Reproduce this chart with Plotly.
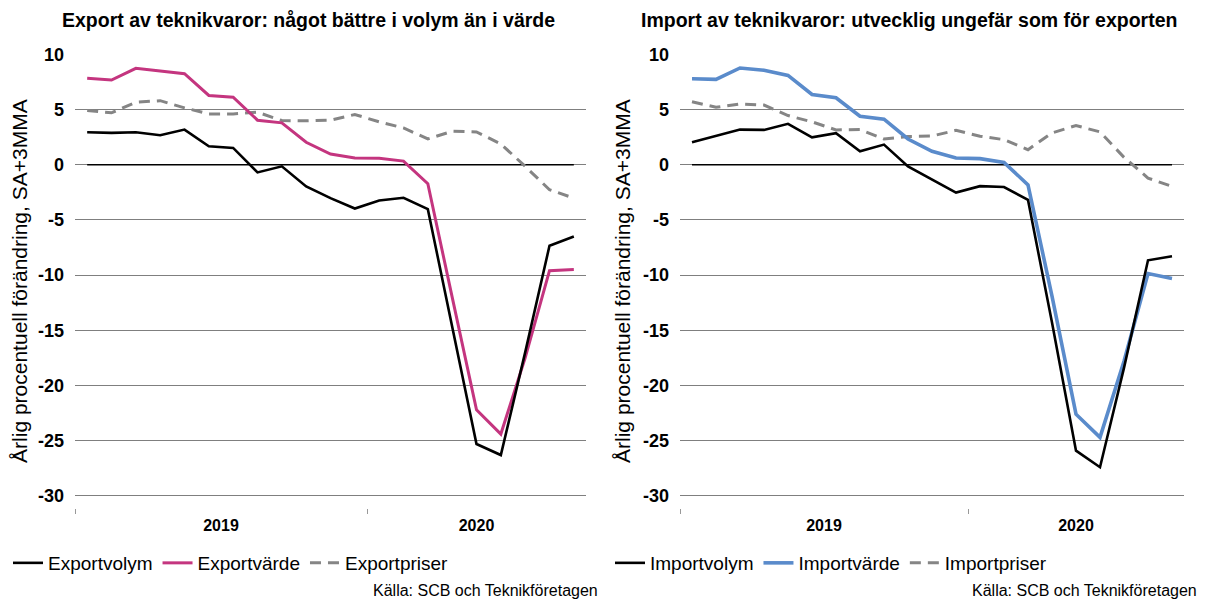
import plotly.graph_objects as go

months = ["jan", "feb", "mar", "apr", "maj", "jun", "jul", "aug", "sep", "okt", "nov", "dec",
          "jan", "feb", "mar", "apr", "maj", "jun", "jul", "aug", "sep"]
years = ["2019"] * 12 + ["2020"] * 9
year_labels = ["2019", "2020"]

export_volym = [2.94, 2.88, 2.94, 2.67, 3.18, 1.67, 1.52, -0.70, -0.15, -1.97, -3.03, -3.97,
                -3.24, -3.0, -4.03, -14.6, -25.3, -26.3, -17.0, -7.34, -6.5]
export_varde = [7.82, 7.67, 8.73, 8.48, 8.24, 6.27, 6.12, 4.03, 3.79, 2.03, 0.97, 0.61,
                0.58, 0.33, -1.72, -12.0, -22.2, -24.4, -17.5, -9.6, -9.5]
export_priser = [4.9, 4.7, 5.65, 5.8, 5.15, 4.6, 4.6, 4.75, 4.0, 3.97, 4.03, 4.55,
                 3.88, 3.33, 2.33, 3.03, 2.97, 1.88, -0.15, -2.27, -3.03]

import_volym = [2.03, 2.58, 3.18, 3.15, 3.70, 2.48, 2.85, 1.21, 1.82, -0.15, -1.36, -2.52,
                -1.94, -2.02, -3.19, -14.3, -25.9, -27.4, -18.4, -8.66, -8.3]
import_varde = [7.79, 7.73, 8.76, 8.55, 8.09, 6.36, 6.06, 4.39, 4.12, 2.33, 1.21, 0.6,
                0.55, 0.21, -1.83, -11.9, -22.6, -24.7, -17.8, -9.86, -10.3]
import_priser = [5.7, 5.2, 5.5, 5.4, 4.45, 3.88, 3.15, 3.18, 2.33, 2.55, 2.6, 3.11,
                 2.58, 2.27, 1.36, 2.88, 3.55, 2.97, 0.67, -1.21, -1.97]
zero_ref = [0] * len(months)

y_ticks = [10, 5, 0, -5, -10, -15, -20, -25, -30]
y_tick_text = ["10", "5", "0", "-5", "-10", "-15", "-20", "-25", "-30"]

FONT = "Liberation Sans, Arial, sans-serif"
# the page body adds an 8px margin; the figure is sized so the page is 1206x599
OFF = 8
W, H = 1206 - OFF, 599 - OFF

def px(p):
    return (p - OFF) / W

def py(p):
    return 1 - (p - OFF) / H

x_idx = list(range(len(months)))
year_pos = [5.5, 16]
year_bounds = [-0.5, 11.5]

PINK = "#C4357F"
BLUE = "#5A8BCB"
GRAY = "#858585"

fig = go.Figure()

def add_panel(fig, xa, ya, legend, names, series, colors, widths, dashes):
    fig.add_trace(go.Scatter(x=x_idx, y=zero_ref, xaxis=xa, yaxis=ya, mode="lines",
                             line=dict(color="#000000", width=1.6), showlegend=False,
                             hoverinfo="skip"))
    traces = []
    for i in range(3):
        traces.append(go.Scatter(x=x_idx, y=series[i], xaxis=xa, yaxis=ya, mode="lines",
                                 name=names[i], legend=legend, legendrank=i + 1,
                                 line=dict(color=colors[i], width=widths[i], dash=dashes[i])))
    for i in [2, 1, 0]:
        fig.add_trace(traces[i])

add_panel(fig, "x", "y", "legend",
          ["Exportvolym", "Exportvärde", "Exportpriser"],
          [export_volym, export_varde, export_priser],
          ["#000000", PINK, GRAY], [2.6, 3.0, 3.0], ["solid", "solid", "11px,7px"])
add_panel(fig, "x2", "y2", "legend2",
          ["Importvolym", "Importvärde", "Importpriser"],
          [import_volym, import_varde, import_priser],
          ["#000000", BLUE, GRAY], [2.6, 3.6, 3.0], ["solid", "solid", "11px,7px"])

top_px, bot_px = 54.3, 508
px_per_unit = 11.04
ymin = 10 - (bot_px - top_px) / px_per_unit
ydom = [py(bot_px), py(top_px)]

def xaxis_cfg(l, r):
    return dict(domain=[px(l), px(r)], range=[-0.5, len(months) - 0.5],
                tickvals=year_pos, ticktext=year_labels, ticks="", showgrid=False,
                zeroline=False, showline=False, automargin=False,
                tickfont=dict(family=FONT, size=16, color="#000000", weight="bold"),
                ticklabelstandoff=6,
                minor=dict(tickvals=year_bounds, ticks="outside", ticklen=5,
                           tickcolor="#999999", tickwidth=1, showgrid=False))

def yaxis_cfg(anchor):
    return dict(domain=ydom, range=[ymin, 10], anchor=anchor, tickvals=y_ticks,
                ticktext=y_tick_text, automargin=False,
                showgrid=True, gridcolor="#7F7F7F", gridwidth=1.2, zeroline=False,
                showline=False, ticks="",
                tickfont=dict(family=FONT, size=18, color="#000000", weight="bold"),
                ticklabelstandoff=10,
                title=dict(text="Årlig procentuell förändring, SA+3MMA", standoff=6,
                           font=dict(family=FONT, size=21, color="#000000")))

leg_common = dict(orientation="h", xanchor="left", yanchor="top",
                  font=dict(family=FONT, size=19, color="#000000"), itemwidth=30,
                  bgcolor="rgba(0,0,0,0)", traceorder="normal", tracegroupgap=0)

fig.update_layout(
    width=W, height=H, margin=dict(l=0, r=0, t=0, b=0, pad=0, autoexpand=False),
    paper_bgcolor="white", plot_bgcolor="white",
    xaxis=dict(xaxis_cfg(75, 586), anchor="y"),
    yaxis=yaxis_cfg("x"),
    xaxis2=dict(xaxis_cfg(680, 1184), anchor="y2"),
    yaxis2=yaxis_cfg("x2"),
    legend=dict(leg_common, x=px(8), y=py(544)),
    legend2=dict(leg_common, x=px(610), y=py(544)),
    showlegend=True,
)

fig.add_annotation(text="<b>Export av teknikvaror: något bättre i volym än i värde</b>",
                   x=px(308), y=py(20), xref="paper", yref="paper", showarrow=False,
                   xanchor="center", yanchor="middle",
                   font=dict(family=FONT, size=19.5, color="#000000"))
fig.add_annotation(text="<b>Import av teknikvaror: utvecklig ungefär som för exporten</b>",
                   x=px(909), y=py(20), xref="paper", yref="paper", showarrow=False,
                   xanchor="center", yanchor="middle",
                   font=dict(family=FONT, size=19.5, color="#000000"))
for xr in [600, 1199]:
    fig.add_annotation(text="Källa: SCB och Teknikföretagen", x=px(xr), y=py(590),
                       xref="paper", yref="paper", showarrow=False, xanchor="right",
                       yanchor="middle", font=dict(family=FONT, size=16, color="#000000"))

fig.write_html("out.html")
